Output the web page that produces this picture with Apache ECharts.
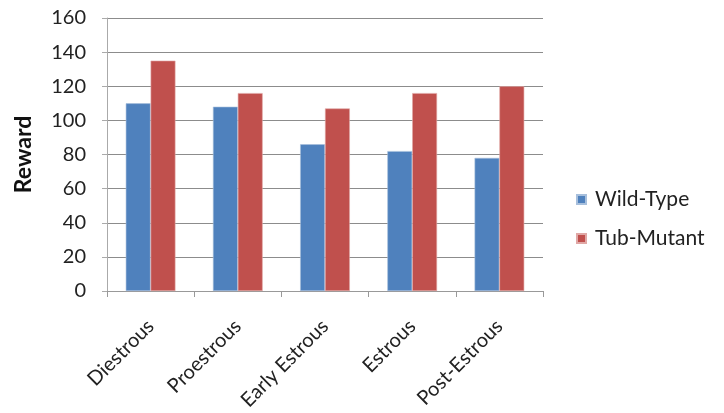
<!DOCTYPE html>
<html>
<head>
<meta charset="utf-8">
<script src="https://cdn.jsdelivr.net/npm/echarts@6/dist/echarts.min.js"></script>
<style>
  html, body { margin: 0; padding: 0; background: #fff; }
  #chart { width: 724px; height: 413px; }
</style>
</head>
<body>
<div id="chart"></div>
<script>
const categories = ['Diestrous', 'Proestrous', 'Early Estrous', 'Estrous', 'Post-Estrous']
const wildType = [110, 108, 86, 82, 78]
const tubMutant = [135, 116, 107, 116, 120]
const yTicks = [0, 20, 40, 60, 80, 100, 120, 140, 160]

const font = 'Lato, "Open Sans", sans-serif'

const chart = echarts.init(document.getElementById('chart'))
chart.setOption({
  animation: false,
  textStyle: { fontFamily: font },
  grid: { left: 107, right: 181, top: 18, bottom: 122 },
  legend: {
    orient: 'vertical',
    left: 571,
    top: 184,
    itemWidth: 9,
    itemHeight: 9,
    itemGap: 18,
    icon: 'rect',
    textStyle: { fontSize: 21, color: '#222', fontFamily: font, padding: [0, 0, 0, 4] },
    data: ['Wild-Type', 'Tub-Mutant'],
  },
  xAxis: {
    type: 'category',
    data: categories,
    axisLine: { lineStyle: { color: '#999' } },
    axisTick: { show: true, length: 6, lineStyle: { color: '#999' } },
    axisLabel: { rotate: 45, fontSize: 20, color: '#222', margin: 32, interval: 0 },
  },
  yAxis: {
    type: 'value',
    min: yTicks[0],
    max: yTicks[yTicks.length - 1],
    interval: 20,
    name: 'Reward',
    nameLocation: 'middle',
    nameGap: 72,
    nameTextStyle: { fontSize: 23, fontWeight: 'bold', color: '#111' },
    axisLine: { show: true, lineStyle: { color: '#aaa' } },
    axisTick: { show: true, length: 5, lineStyle: { color: '#aaa' } },
    axisLabel: { fontSize: 20, color: '#222', margin: 21 },
    splitLine: { lineStyle: { color: '#8c8c8c', width: 1 } },
  },
  series: [
    {
      name: 'Wild-Type',
      type: 'bar',
      data: wildType,
      barGap: '0%',
      barCategoryGap: '43%',
      itemStyle: { color: '#4F81BD', borderColor: '#a7bfdc', borderWidth: 0.6 },
    },
    {
      name: 'Tub-Mutant',
      type: 'bar',
      data: tubMutant,
      barGap: '0%',
      barCategoryGap: '43%',
      itemStyle: { color: '#C0504D', borderColor: '#e0a8a6', borderWidth: 0.6 },
    },
  ],
})
</script>
</body>
</html>
